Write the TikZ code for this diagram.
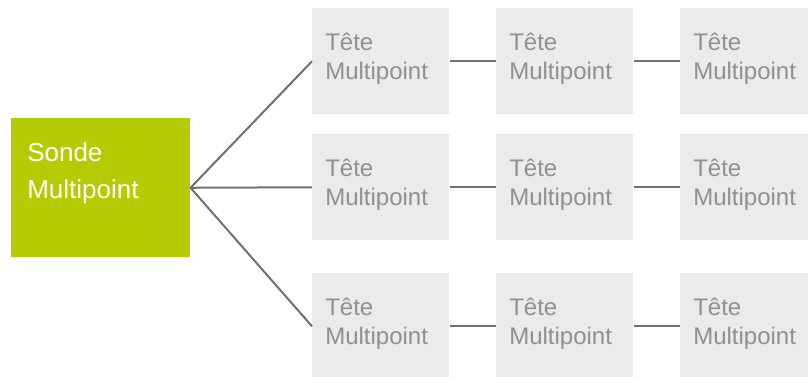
\documentclass[tikz,border=0pt]{standalone}
\usepackage{fontspec}
\setmainfont{Liberation Sans}
\definecolor{sondegreen}{HTML}{B5CC05}
\definecolor{tetegray}{HTML}{EBEBEB}
\definecolor{linkgray}{HTML}{707070}
\definecolor{textgray}{HTML}{909090}
\def\px{0.75pt}
\tikzset{
  sondetext/.style={anchor=north west, inner sep=0, xshift=16*\px, yshift=-24*\px,
    align=left, text=white, font=\fontsize{19.5}{27.75}\selectfont},
  sonde/.style={fill=sondegreen, anchor=north west, inner sep=0,
    minimum width=179*\px, minimum height=139*\px, label={[sondetext]north west:#1}},
  tetetext/.style={anchor=north west, inner sep=0, xshift=13*\px, yshift=-25*\px,
    align=left, text=textgray, font=\fontsize{18}{21.75}\selectfont},
  tete/.style={fill=tetegray, anchor=north west, inner sep=0,
    minimum width=137*\px, minimum height=106*\px, label={[tetetext]north west:#1}},
  link/.style={draw=linkgray, line width=1.5pt}
}
\begin{document}
\begin{tikzpicture}[x=\px, y=-\px]
  \def\Xa{312};
  \def\Xb{496};
  \def\Xc{680};
  \def\Ya{8};
  \def\Yb{134};
  \def\Yc{273};
  \useasboundingbox (0,0) rectangle (808,376);
  \clip (0,0) rectangle (808,376);

        \node[sonde={Sonde\\Multipoint}] (sonde) at (11,118) {};  % green probe

        \node[tete={Tête\\Multipoint}] (t11) at (\Xa,\Ya) {};   % row 1
        \node[tete={Tête\\Multipoint}] (t12) at (\Xb,\Ya) {};
        \node[tete={Tête\\Multipoint}] (t13) at (\Xc,\Ya) {};

        \node[tete={Tête\\Multipoint}] (t21) at (\Xa,\Yb) {};   % row 2
        \node[tete={Tête\\Multipoint}] (t22) at (\Xb,\Yb) {};
        \node[tete={Tête\\Multipoint}] (t23) at (\Xc,\Yb) {};

        \node[tete={Tête\\Multipoint}] (t31) at (\Xa,\Yc) {};   % row 3
        \node[tete={Tête\\Multipoint}] (t32) at (\Xb,\Yc) {};
        \node[tete={Tête\\Multipoint}] (t33) at (\Xc,\Yc) {};

	\draw[link] (sonde.east) -- (t11.west);   % probe -> first heads
	\draw[link] (sonde.east) -- (t21.west);
	\draw[link] (sonde.east) -- (t31.west);

	\draw[link] (t11) -- (t12);  \draw[link] (t12) -- (t13);
	\draw[link] (t21) -- (t22);  \draw[link] (t22) -- (t23);
	\draw[link] (t31) -- (t32);  \draw[link] (t32) -- (t33);
\end{tikzpicture}
\end{document}
